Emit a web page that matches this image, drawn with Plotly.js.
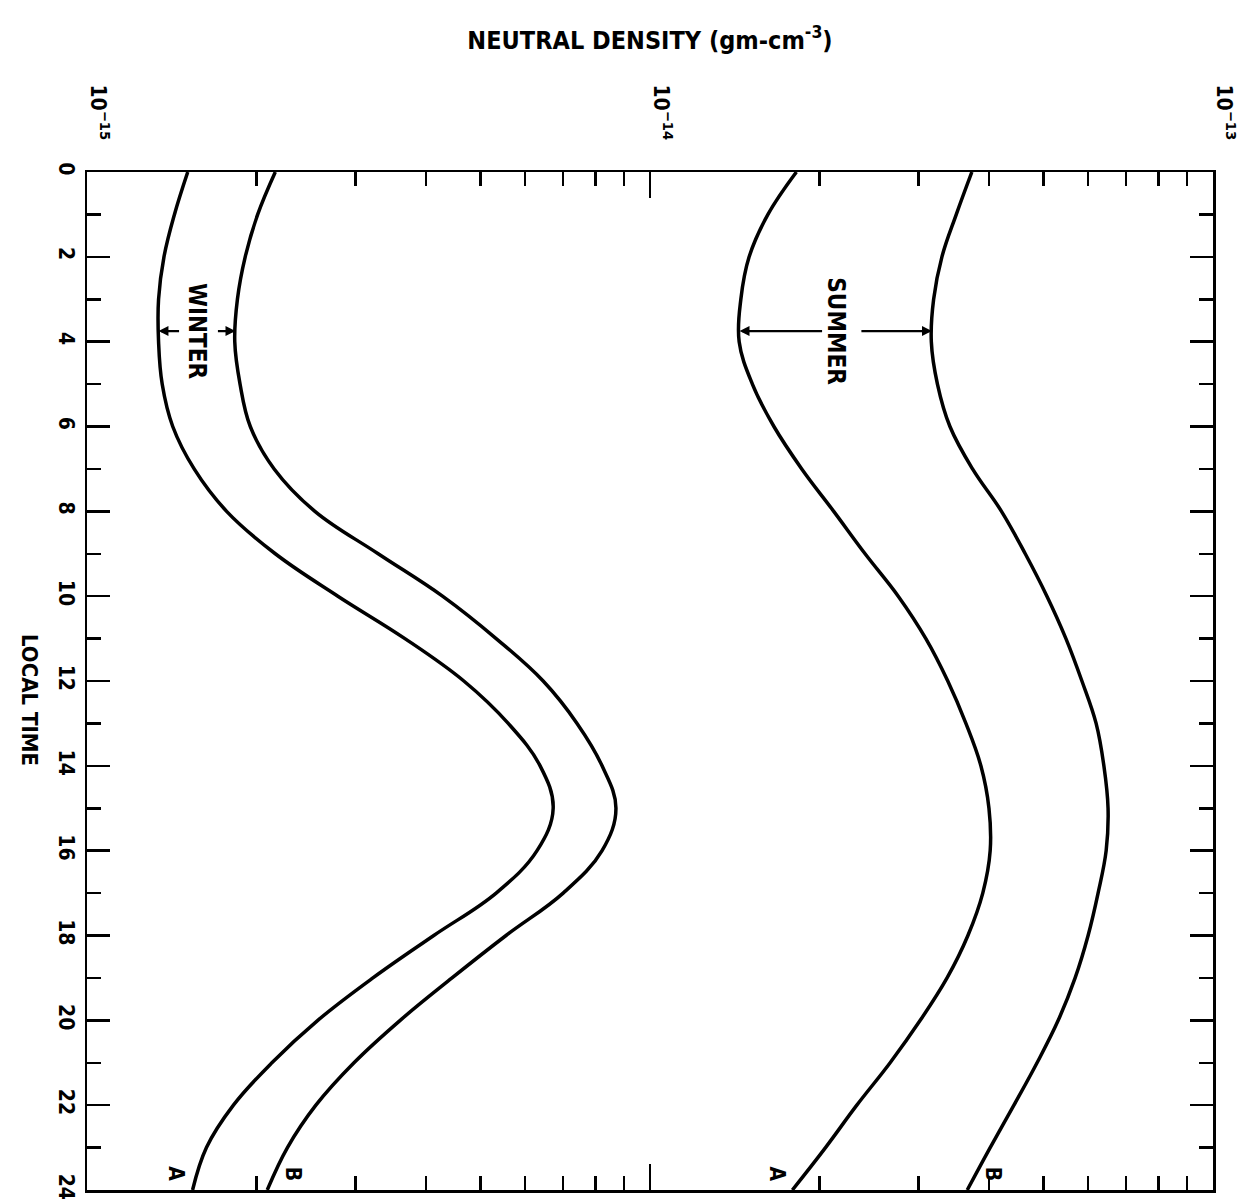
<!DOCTYPE html>
<html><head><meta charset="utf-8">
<script src="https://cdn.plot.ly/plotly-3.0.1.min.js"></script>
<style>html,body{margin:0;padding:0;background:#fff}#chart{width:1244px;height:1203px}</style>
</head><body><div id="chart"></div>
<script>
// Local time (hours)
const localTime = [0,1,2,3,4,5,6,7,8,9,10,11,12,13,14,15,16,17,18,19,20,21,22,23,24];
// Neutral density (gm-cm^-3)
const winterA = [1.51e-15,1.43e-15,1.37e-15,1.34e-15,1.34e-15,1.36e-15,1.42e-15,1.55e-15,1.77e-15,2.16e-15,2.79e-15,3.67e-15,4.67e-15,5.60e-15,6.38e-15,6.73e-15,6.30e-15,5.33e-15,4.13e-15,3.22e-15,2.57e-15,2.13e-15,1.82e-15,1.63e-15,1.54e-15];
const winterB = [2.16e-15,2.01e-15,1.91e-15,1.85e-15,1.83e-15,1.87e-15,1.95e-15,2.15e-15,2.54e-15,3.29e-15,4.28e-15,5.33e-15,6.46e-15,7.42e-15,8.22e-15,8.70e-15,8.22e-15,7.01e-15,5.55e-15,4.45e-15,3.60e-15,2.98e-15,2.55e-15,2.27e-15,2.09e-15];
const summerA = [1.82e-14,1.62e-14,1.50e-14,1.45e-14,1.44e-14,1.52e-14,1.66e-14,1.86e-14,2.12e-14,2.41e-14,2.76e-14,3.09e-14,3.38e-14,3.64e-14,3.87e-14,4.00e-14,4.02e-14,3.90e-14,3.67e-14,3.37e-14,3.02e-14,2.67e-14,2.33e-14,2.05e-14,1.79e-14];
const summerB = [3.73e-14,3.50e-14,3.30e-14,3.19e-14,3.16e-14,3.24e-14,3.41e-14,3.74e-14,4.21e-14,4.64e-14,5.07e-14,5.48e-14,5.85e-14,6.20e-14,6.40e-14,6.51e-14,6.46e-14,6.25e-14,6.00e-14,5.69e-14,5.31e-14,4.87e-14,4.43e-14,4.02e-14,3.66e-14];
// Axis ticks
const densityTicks = [1e-15,1e-14,1e-13];
const densityTickText = ['10<sup>−15</sup>','10<sup>−14</sup>','10<sup>−13</sup>'];
const densityMinor = [2e-15,3e-15,4e-15,5e-15,6e-15,7e-15,8e-15,9e-15,2e-14,3e-14,4e-14,5e-14,6e-14,7e-14,8e-14,9e-14];
const timeTicks = [0,2,4,6,8,10,12,14,16,18,20,22,24];
const timeMinor = [1,3,5,7,9,11,13,15,17,19,21,23];
const seasonLabels = ['WINTER','SUMMER'];
const curveLabels = ['A','B'];
const markTime = 3.75;

const FONT = '"DejaVu Sans Condensed", "DejaVu Sans", "Liberation Sans", sans-serif';
const line = {color:'#000', width:3.5, shape:'spline', smoothing:1.1};
const mk = (arr) => ({x:arr, y:localTime, type:'scatter', mode:'lines', line:line, hoverinfo:'skip', showlegend:false});
const traces = [mk(winterA), mk(winterB), mk(summerA), mk(summerB)];

const lg = (arr) => {
  const i = Math.floor(markTime), f = markTime - i;
  return Math.log10(arr[i]) + f*(Math.log10(arr[i+1]) - Math.log10(arr[i]));
};
const arrow = (arr, ax) => ({x:lg(arr), y:markTime, xref:'x', yref:'y', text:'', showarrow:true,
  arrowhead:2, arrowsize:0.9, arrowwidth:2.2, arrowcolor:'#000', ax:ax, ay:0});
const seasonText = (a, b, txt) => ({x:(lg(a)+lg(b))/2, y:markTime, xref:'x', yref:'y', text:'<b>'+txt+'</b>',
  showarrow:false, textangle:90, font:{family:FONT, size:24, color:'#000'}});
const endLabel = (arr, txt, xs) => ({x:Math.log10(arr[24]), y:23.62, xref:'x', yref:'y', text:'<b>'+txt+'</b>',
  showarrow:false, textangle:90, xshift:xs, font:{family:FONT, size:21, color:'#000'}});

const axisCommon = {showgrid:false, zeroline:false, showline:true, linecolor:'#000', linewidth:2.5,
  ticks:'inside', tickcolor:'#000', tickwidth:2.5, mirror:'ticks'};

const layout = {
  width:1244, height:1203,
  margin:{l:87, r:31, t:172, b:13},
  paper_bgcolor:'#fff', plot_bgcolor:'#fff',
  title:{text:'<b>NEUTRAL DENSITY (gm-cm<sup>-3</sup>)</b>', x:0.5, xref:'paper', y:1-40/1203, yref:'container', yanchor:'middle',
    font:{family:FONT, size:25, color:'#000'}},
  xaxis: Object.assign({}, axisCommon, {type:'log', side:'top', range:[-15,-13], autorange:false,
    tickvals:densityTicks, ticktext:densityTickText, tickangle:90, ticklen:26, ticklabelstandoff:22, ticklabelshift:11,
    tickfont:{family:FONT, size:21, color:'#000', weight:'bold'},
    minor:{tickvals:densityMinor, ticks:'inside', ticklen:14, tickwidth:2.5, tickcolor:'#000', showgrid:false}}),
  yaxis: Object.assign({}, axisCommon, {range:[24,0], autorange:false, tickvals:timeTicks, ticklen:23,
    tickangle:90, ticklabelstandoff:0, tickfont:{family:FONT, size:21, color:'#000', weight:'bold'},
    minor:{tickvals:timeMinor, ticks:'inside', ticklen:14, tickwidth:2.5, tickcolor:'#000', showgrid:false}}),
  annotations:[
    {x:(30-87)/(1244-87-31), y:1-(700-172)/(1203-172-13), xref:'paper', yref:'paper', xanchor:'center', yanchor:'middle',
      text:'<b>LOCAL TIME</b>', showarrow:false, textangle:90, font:{family:FONT, size:22, color:'#000'}},
    seasonText(winterA, winterB, seasonLabels[0]),
    seasonText(summerA, summerB, seasonLabels[1]),
    arrow(winterA, 22), arrow(winterB, -19),
    arrow(summerA, 84), arrow(summerB, -72),
    endLabel(winterA, curveLabels[0], -16), endLabel(winterB, curveLabels[1], 26),
    endLabel(summerA, curveLabels[0], -15), endLabel(summerB, curveLabels[1], 26)
  ]
};
Plotly.newPlot('chart', traces, layout, {staticPlot:true});
</script></body></html>
